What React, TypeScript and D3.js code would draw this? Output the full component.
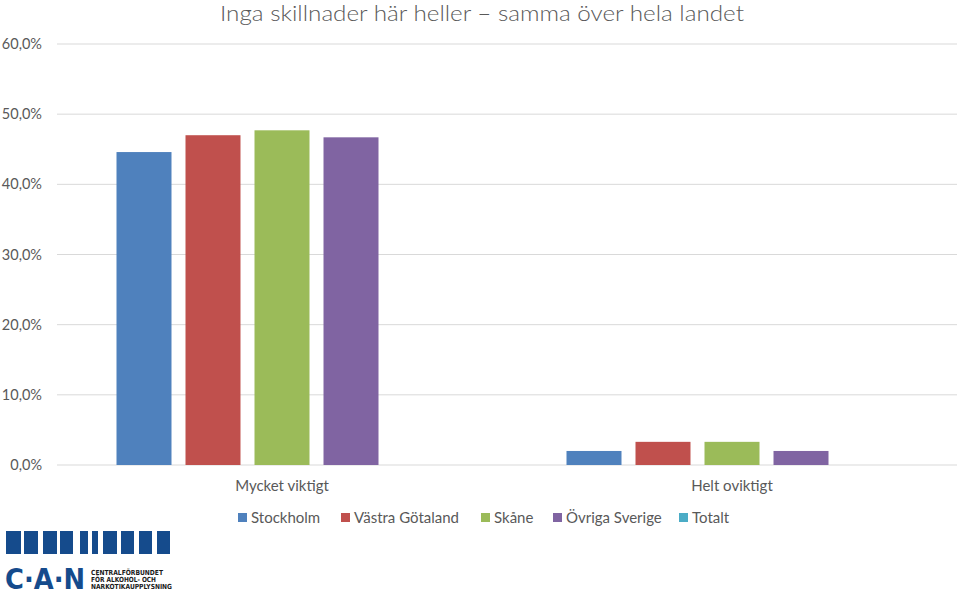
import React from "react";
import * as d3 from "d3";

const categories = ["Mycket viktigt", "Helt oviktigt"];
const seriesNames = ["Stockholm", "Västra Götaland", "Skåne", "Övriga Sverige", "Totalt"];
const stockholm = [0.446, 0.02];
const vastraGotaland = [0.47, 0.033];
const skane = [0.477, 0.033];
const ovrigaSverige = [0.467, 0.02];
const totalt: (number | null)[] = [null, null];
const seriesValues = [stockholm, vastraGotaland, skane, ovrigaSverige, totalt];
const colors = ["#4F81BD", "#C0504D", "#9BBB59", "#8064A2", "#4BACC6"];
const yTicks = [0, 0.1, 0.2, 0.3, 0.4, 0.5, 0.6];
const title = "Inga skillnader här heller – samma över hela landet";
const legendX = [238, 341, 481, 553, 679];
const logoBars = [[6, 21], [24, 38], [43, 57], [60, 73], [80, 88], [92, 98], [103, 117], [121, 134], [139, 152], [157, 170]];

const W = 959;
const H = 591;
const FONT = "Lato, 'Open Sans', sans-serif";
const TEXT = "#595959";

export default function App() {
  const x0 = d3.scaleBand<string>().domain(categories).range([57, 957]).padding(0);
  const groupW = 331;
  const x1 = d3.scaleBand<string>().domain(seriesNames).range([0, groupW]).paddingInner(0.203).paddingOuter(0);
  const y = d3.scaleLinear().domain([0, 0.6]).range([465, 44]);
  const fmt = (v: number) => (v * 100).toFixed(1).replace(".", ",") + "%";

  return (
    <svg width={W} height={H} style={{ position: "absolute", left: 0, top: 0, background: "#fff" }} fontFamily={FONT}>
      <rect width={W} height={H} fill="#fff" />
      <text x={482} y={21} textAnchor="middle" fontSize={22} fontWeight={300} fill={TEXT} textLength={524} lengthAdjust="spacingAndGlyphs">{title}</text>
      {yTicks.map((t) => (
        <g key={t}>
          <line x1={57} x2={957} y1={y(t)} y2={y(t)} stroke="#D9D9D9" strokeWidth={1} />
          <text x={42} y={y(t) + 5} textAnchor="end" fontSize={14.5} fill={TEXT}>{fmt(t)}</text>
        </g>
      ))}
      {categories.map((c, ci) => {
        const off = x0(c)! + (x0.bandwidth() - groupW) / 2;
        return (
          <g key={c}>
            {seriesNames.map((s, si) => {
              const v = seriesValues[si][ci];
              if (v == null) return null;
              return (
                <rect key={s} x={off + x1(s)!} y={y(v)} width={x1.bandwidth()} height={y(0) - y(v)} fill={colors[si]} />
              );
            })}
            <text x={x0(c)! + x0.bandwidth() / 2} y={491} textAnchor="middle" fontSize={15} fill={TEXT}>{c}</text>
          </g>
        );
      })}
      {seriesNames.map((s, i) => (
        <g key={s}>
          <rect x={legendX[i]} y={513} width={9} height={9} fill={colors[i]} />
          <text x={legendX[i] + 13} y={523} fontSize={15} fill={TEXT}>{s}</text>
        </g>
      ))}
      <g fill="#154B8C">
        {logoBars.map(([a, b], i) => (
          <rect key={i} x={a} y={531} width={b - a} height={23} />
        ))}
        <text x={5} y={589} fontSize={29} fontWeight={900} fontFamily="'DejaVu Sans', sans-serif" textLength={80} lengthAdjust="spacingAndGlyphs">C·A·N</text>
        <g fill="#1a1a1a" fontSize={7} fontWeight={900} fontFamily="'DejaVu Sans', sans-serif">
          <text x={91} y={575} textLength={72} lengthAdjust="spacingAndGlyphs">CENTRALFÖRBUNDET</text>
          <text x={91} y={582} textLength={65} lengthAdjust="spacingAndGlyphs">FÖR ALKOHOL- OCH</text>
          <text x={91} y={589} textLength={81} lengthAdjust="spacingAndGlyphs">NARKOTIKAUPPLYSNING</text>
        </g>
      </g>
    </svg>
  );
}
